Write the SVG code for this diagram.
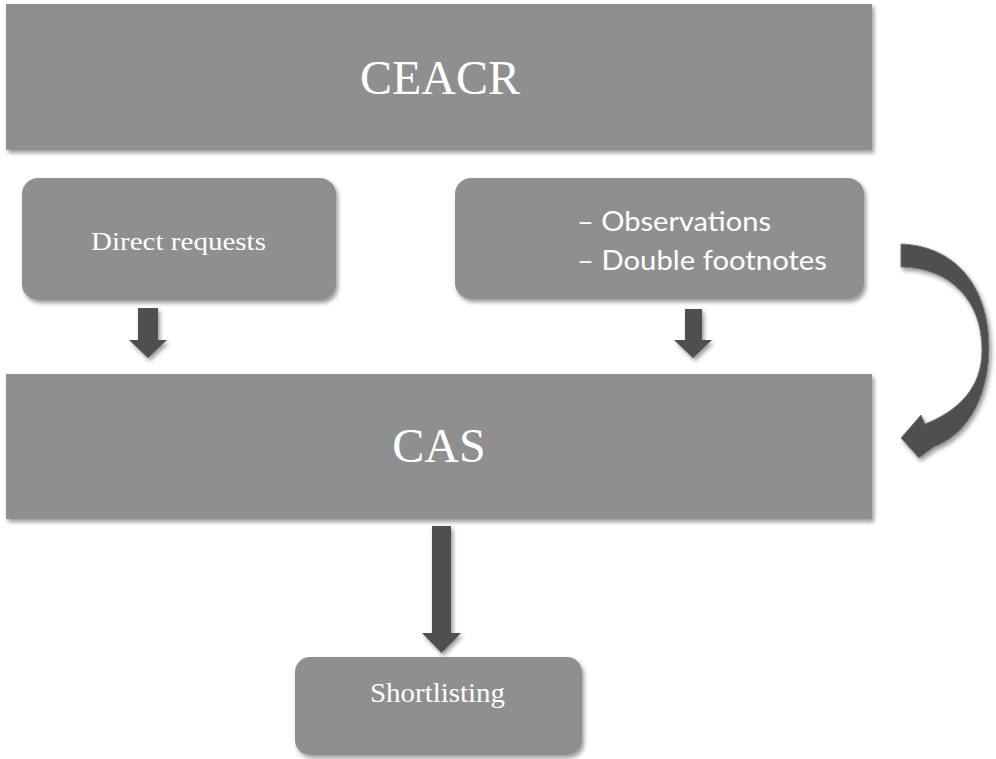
<svg xmlns="http://www.w3.org/2000/svg" width="996" height="759" viewBox="0 0 996 759">
  <defs>
    <filter id="sh" x="-10%" y="-10%" width="120%" height="130%">
      <feDropShadow dx="2" dy="3" stdDeviation="2.2" flood-color="#000" flood-opacity="0.4"/>
    </filter>
    <linearGradient id="cg" x1="0" y1="0" x2="1" y2="0">
      <stop offset="0" stop-color="#4a4a4a"/>
      <stop offset="1" stop-color="#505050"/>
    </linearGradient>
  </defs>
  <style>
    .box { fill: #8f8f8f; filter: url(#sh); }
    .arrow { fill: #4f4f4f; filter: url(#sh); }
    .serif { font-family: "Liberation Serif", "Times New Roman", serif; fill: #ffffff; text-anchor: middle; }
    .sans { font-family: "Lato", "Noto Sans", sans-serif; fill: #ffffff; }
  </style>
  <rect width="996" height="759" fill="#ffffff"/>
  <g id="connectors">
    <polygon class="arrow" points="138,308 158,308 158,340 167,340 148,358 129,340 138,340"/>
    <polygon class="arrow" points="685,309 702,309 702,340 712,340 693,358 674,340 685,340"/>
    <polygon class="arrow" points="432,526 451,526 451,633 461,633 441.5,653 422,633 432,633"/>
    <path class="arrow" fill="url(#cg)" stroke="#7a7a7a" stroke-width="1" d="M901,244 C958,246 990,290 989,350 C988,402 964,436 934,447 L919,458 L901,438 L921,415 L925,424 C958,411 982,388 982,350 C982,300 950,268 901,267 Z"/>
  </g>
  <g id="ceacr">
    <rect class="box" x="6" y="4" width="866" height="146"/>
    <text class="serif" x="440" y="94" font-size="48">CEACR</text>
  </g>
  <g id="direct-requests">
    <rect class="box" x="22" y="178" width="314" height="122" rx="16" ry="16"/>
    <text class="serif" x="178.5" y="250" font-size="26" textLength="175" lengthAdjust="spacingAndGlyphs">Direct requests</text>
  </g>
  <g id="observations">
    <rect class="box" x="455" y="178" width="409" height="121" rx="16" ry="16"/>
    <text class="sans" x="577" y="231" font-size="26" textLength="194" lengthAdjust="spacingAndGlyphs">– Observations</text>
    <text class="sans" x="577" y="270" font-size="26" textLength="250" lengthAdjust="spacingAndGlyphs">– Double footnotes</text>
  </g>
  <g id="cas">
    <rect class="box" x="6" y="374" width="866" height="145"/>
    <text class="serif" x="439" y="462" font-size="48">CAS</text>
  </g>
  <g id="shortlisting">
    <rect class="box" x="295" y="657" width="287" height="98" rx="15" ry="15"/>
    <text class="serif" x="437.5" y="702" font-size="28" textLength="135" lengthAdjust="spacingAndGlyphs">Shortlisting</text>
  </g>
</svg>
